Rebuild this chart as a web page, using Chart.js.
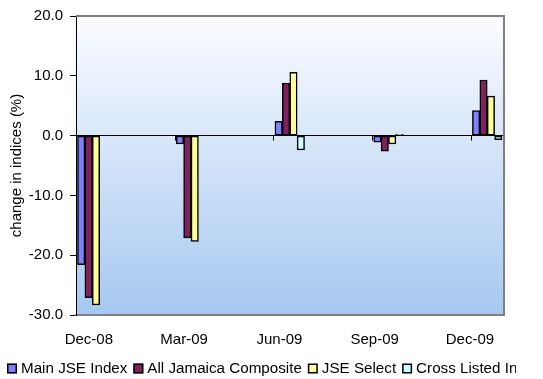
<!DOCTYPE html>
<html>
<head>
<meta charset="utf-8">
<script src="https://cdn.jsdelivr.net/npm/chart.js@4/dist/chart.umd.min.js"></script>
<style>
  html, body { margin: 0; padding: 0; background: #fff; }
  #wrap { width: 543px; height: 379px; }
</style>
</head>
<body>
<div id="wrap"><canvas id="indices" width="543" height="379"></canvas></div>
<script>
// quarterly change in JSE indices (%)
const months = ['Dec-08', 'Mar-09', 'Jun-09', 'Sep-09', 'Dec-09'];
const mainJse = [-21.6, -1.4, 2.4, -1.1, 4.2];
const allJamaica = [-27.1, -17.1, 8.8, -2.6, 9.3];
const jseSelect = [-28.3, -17.7, 10.6, -1.4, 6.6];
const crossListed = [null, null, -2.4, 0.2, -0.7];

const seriesNames = ['Main JSE Index', 'All Jamaica Composite', 'JSE Select', 'Cross Listed Indices'];
const seriesValues = [mainJse, allJamaica, jseSelect, crossListed];
const seriesColors = ['#8080ff', '#80205f', '#ffff99', '#ccffff'];

const yTicks = [-30, -20, -10, 0, 10, 20];

Chart.defaults.font.family = 'Arial, "Liberation Sans", sans-serif';
Chart.defaults.font.size = 15;
Chart.defaults.color = '#000';

// gradient plot background, grey frame, little ticks on the zero line
const plotFrame = {
    id: 'plotFrame',
    beforeDraw(chart) {
        const { ctx, chartArea: a } = chart;
        const g = ctx.createLinearGradient(0, a.top, 0, a.bottom);
        g.addColorStop(0, '#fbfcff');
        g.addColorStop(1, '#a6c8f0');
        ctx.save();
        ctx.fillStyle = g;
        ctx.fillRect(a.left, a.top, a.right - a.left, a.bottom - a.top);
        ctx.restore();
    },
    afterDatasetsDraw(chart) {
        const { ctx, chartArea: a, scales } = chart;
        ctx.save();
        ctx.strokeStyle = '#808080';
        ctx.lineWidth = 2;
        ctx.beginPath();
        ctx.moveTo(a.left, a.top);
        ctx.lineTo(a.right, a.top);
        ctx.lineTo(a.right, a.bottom);
        ctx.stroke();

        const y0 = scales.y.getPixelForValue(0);
        ctx.strokeStyle = '#000';
        ctx.lineWidth = 1;
        months.forEach((m, i) => {
            const x = Math.round(scales.x.getPixelForValue(i - 0.165)) + 0.5;
            ctx.beginPath();
            ctx.moveTo(x, y0);
            ctx.lineTo(x, y0 + 5);
            ctx.stroke();
        });
        ctx.restore();
    }
};

// legend row along the bottom, cut off by its box on the right
const bottomLegend = {
    id: 'bottomLegend',
    afterDraw(chart) {
        const { ctx } = chart;
        const yMid = 368.5;
        let x = 7;
        ctx.save();
        ctx.beginPath();
        ctx.rect(0, 350, 516, 29);
        ctx.clip();
        ctx.font = '15.2px Arial, "Liberation Sans", sans-serif';
        ctx.textBaseline = 'middle';
        chart.data.datasets.forEach(ds => {
            ctx.fillStyle = ds.backgroundColor;
            ctx.fillRect(x, yMid - 5, 10, 10);
            ctx.strokeStyle = '#000';
            ctx.lineWidth = 1.5;
            ctx.strokeRect(x + 0.75, yMid - 4.25, 8.5, 8.5);
            ctx.fillStyle = '#000';
            ctx.fillText(ds.label, x + 14, yMid);
            x += 14 + ctx.measureText(ds.label).width + 6;
        });
        ctx.restore();
    }
};

const datasets = seriesNames.map((name, k) => ({
    label: name,
    data: seriesValues[k].map((v, i) => ({ x: i, y: v })),
    backgroundColor: seriesColors[k],
    borderColor: '#000',
    borderWidth: 1.5,
    borderSkipped: false,
    barThickness: 7.4
}));

new Chart(document.getElementById('indices'), {
    type: 'bar',
    data: { datasets },
    options: {
        responsive: false,
        animation: false,
        layout: { padding: { left: 0, top: 12, right: 39, bottom: 24 } },
        plugins: {
            legend: { display: false },
            tooltip: { enabled: false }
        },
        scales: {
            x: {
                type: 'linear',
                offset: false,
                min: -0.165,
                max: 4.17,
                grid: { display: false, drawTicks: false, offset: false },
                border: { display: true, color: '#808080', width: 2 },
                afterBuildTicks: s => {
                    // month labels sit slightly left of each group
                    s.ticks = months.map((m, i) => ({ value: i * 0.965 - 0.035 }));
                },
                afterFit: s => { s.height = 40; },
                ticks: {
                    autoSkip: false,
                    maxRotation: 0,
                    padding: 16,
                    callback: (v, i) => months[i]
                }
            },
            y: {
                min: -30,
                max: 20,
                afterBuildTicks: s => { s.ticks = yTicks.map(v => ({ value: v })); },
                afterFit: s => { s.width = 76; },
                grid: {
                    drawOnChartArea: true,
                    color: c => (c.tick && c.tick.value === 0 ? '#000' : 'rgba(0,0,0,0)'),
                    tickColor: '#000',
                    tickLength: 6
                },
                border: { display: true, color: '#000', width: 1 },
                ticks: {
                    padding: 7,
                    callback: v => v.toFixed(1)
                },
                title: {
                    display: true,
                    text: 'change in indices (%)',
                    font: { size: 15 },
                    padding: { top: 8, bottom: 0 }
                }
            }
        }
    },
    plugins: [plotFrame, bottomLegend]
});
</script>
</body>
</html>
